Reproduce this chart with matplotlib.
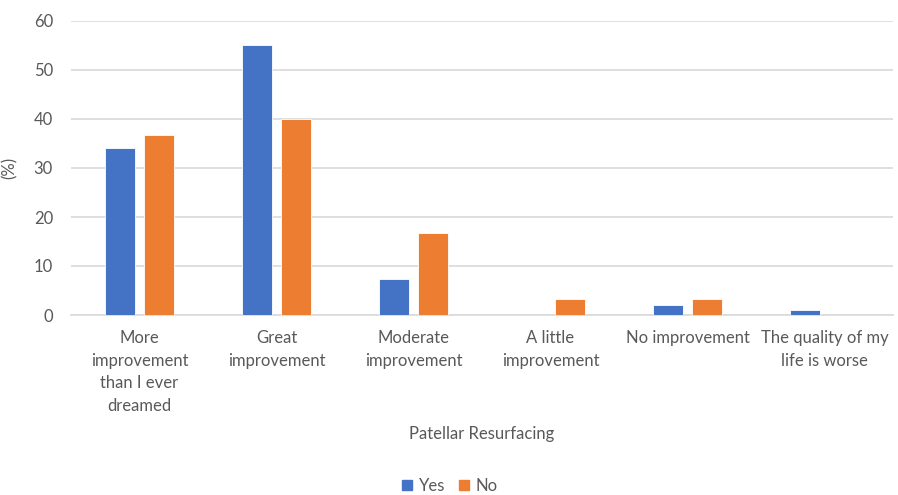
import matplotlib
matplotlib.use("Agg")
import matplotlib.pyplot as plt
import numpy as np
from matplotlib.patches import Patch

categories = [
    "More\nimprovement\nthan I ever\ndreamed",
    "Great\nimprovement",
    "Moderate\nimprovement",
    "A little\nimprovement",
    "No improvement",
    "The quality of my\nlife is worse",
]
yes_values = [34.0, 55.2, 7.4, 0.0, 2.1, 1.1]
no_values = [36.7, 40.0, 16.7, 3.3, 3.3, 0.0]
series_names = ["Yes", "No"]
y_ticks = [0, 10, 20, 30, 40, 50, 60]

BLUE = "#4472C4"
ORANGE = "#ED7D31"
TEXT = "#595959"
GRID = "#D9D9D9"
FS = 12

plt.rcParams["font.family"] = ["Lato", "DejaVu Sans"]

fig = plt.figure(figsize=(8.98, 4.95), dpi=100)
ax = fig.add_axes([71 / 898, 1 - 315 / 495, (893 - 71) / 898, (315 - 21) / 495])

x = np.arange(len(categories))
width = 0.219
offset = (width + 0.066) / 2
ax.bar(x - offset, yes_values, width, color=BLUE, edgecolor="white", linewidth=0.6, zorder=3)
ax.bar(x + offset, no_values, width, color=ORANGE, edgecolor="white", linewidth=0.6, zorder=3)

ax.set_xlim(-0.5, len(categories) - 0.5)
ax.set_ylim(0, 60)
ax.set_yticks(y_ticks)
ax.yaxis.grid(True, color=GRID, linewidth=1.2, zorder=0)
ax.set_axisbelow(True)
for side in ["top", "right", "left"]:
    ax.spines[side].set_visible(False)
ax.spines["bottom"].set_color(GRID)
ax.spines["bottom"].set_linewidth(1.2)
ax.tick_params(axis="both", length=0, colors=TEXT, labelsize=FS)
ax.tick_params(axis="y", pad=13)
ax.tick_params(axis="x", pad=11)
ax.set_xticks(x)
ax.set_xticklabels(categories, linespacing=1.5, color=TEXT)

ax.set_ylabel("(%)", color=TEXT, fontsize=FS)
ax.yaxis.set_label_coords((18 - 71) / 822, 0.5)
ax.set_xlabel("Patellar Resurfacing", color=TEXT, fontsize=FS, va="center")
ax.xaxis.set_label_coords(0.5 + (482 - 482) / 822, (315 - 434) / 294)

handles = [Patch(color=BLUE), Patch(color=ORANGE)]
fig.legend(handles, series_names, loc="center", bbox_to_anchor=(450 / 898, 1 - 486 / 495),
           ncol=2, frameon=False, fontsize=FS, labelcolor=TEXT,
           handlelength=0.6, handleheight=0.6, handletextpad=0.4, columnspacing=0.8)

fig.savefig("out.png", dpi=100, facecolor="white")
